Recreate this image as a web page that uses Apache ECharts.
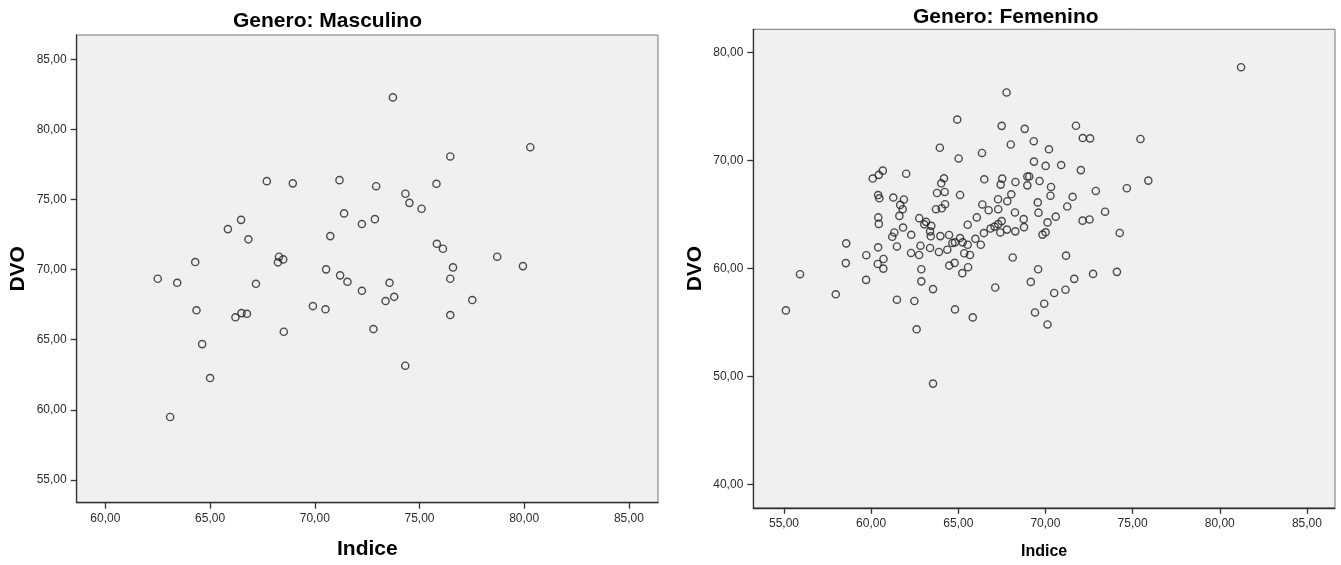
<!DOCTYPE html>
<html>
<head>
<meta charset="utf-8">
<script src="https://cdn.jsdelivr.net/npm/echarts@6/dist/echarts.min.js"></script>
<style>
html,body{margin:0;padding:0;background:#fff;}
#c{width:1341px;height:565px;}
</style>
</head>
<body>
<div id="c"></div>
<script>
// ---- Data: Genero Masculino ----
const maleIndice = [67.71,68.95,71.18,66.48,65.85,66.83,71.40,72.25,70.74,64.29,62.50,63.43,67.19,68.29,68.24,68.49,70.54,71.21,71.56,73.73,80.29,76.47,72.93,75.81,74.33,74.52,75.10,72.87,75.83,76.12,78.71,79.94,76.60,76.47,72.25,73.57,73.38,73.79,77.52,76.47,72.80,74.32,64.35,66.21,66.50,66.76,69.91,70.51,68.52,64.62,65.00,63.09];
const maleDVO = [76.31,76.15,76.38,73.55,72.89,72.16,74.01,73.25,72.39,70.54,69.35,69.06,68.99,70.92,70.52,70.73,70.02,69.59,69.13,82.28,78.73,78.07,75.95,76.12,75.41,74.76,74.34,73.60,71.84,71.49,70.92,70.25,70.16,69.35,68.49,69.06,67.76,68.06,67.83,66.76,65.76,63.15,67.10,66.60,66.90,66.85,67.40,67.17,65.57,64.69,62.27,59.49];

// ---- Data: Genero Femenino ----
const femaleIndice = [67.77,64.94,67.49,68.01,63.94,65.02,66.36,60.67,60.44,60.09,62.01,64.18,64.02,66.49,67.52,67.43,68.28,60.40,60.47,61.27,61.88,61.67,61.81,61.62,63.78,64.22,65.10,64.24,64.05,63.72,66.38,66.74,67.28,67.81,68.04,67.29,68.25,62.76,63.15,63.05,63.45,60.41,60.44,61.83,65.54,66.06,66.85,67.08,67.29,67.49,67.79,68.81,69.33,70.20,71.75,72.14,72.56,75.45,69.34,70.01,70.90,72.03,68.96,69.07,68.96,69.66,70.32,70.29,69.56,71.56,72.89,74.67,75.90,71.25,69.60,68.75,70.59,70.12,72.13,72.53,73.42,68.77,61.33,61.21,62.30,63.38,63.42,63.97,64.47,65.10,64.66,64.81,65.25,65.54,65.98,66.29,66.47,67.41,68.27,58.57,58.55,59.72,60.40,61.48,60.71,60.38,60.70,59.71,57.97,62.83,62.29,62.75,63.38,63.89,64.37,65.34,65.67,64.79,64.48,65.56,65.23,62.88,62.88,63.55,61.48,62.48,62.61,64.81,65.83,67.12,68.12,69.83,70.01,74.26,71.18,69.58,69.16,71.65,72.73,74.10,71.15,70.50,69.93,69.40,70.12,55.92,55.11,63.55,81.22];
const femaleDVO = [76.31,73.80,73.22,71.49,71.19,70.20,70.71,69.07,68.68,68.34,68.79,68.36,67.90,68.27,68.33,67.78,68.02,66.81,66.51,66.58,66.40,65.90,65.50,64.88,67.00,67.10,66.82,65.96,65.59,65.50,65.94,65.41,66.42,66.24,66.88,65.50,65.20,64.67,64.33,64.10,63.96,64.74,64.14,63.80,64.06,64.74,63.71,63.89,64.12,64.40,63.61,72.94,71.80,71.05,73.23,72.09,72.06,72.00,69.91,69.51,69.59,69.12,68.53,68.53,67.71,68.11,67.56,66.75,66.13,66.65,67.19,67.44,68.15,65.75,65.18,64.58,64.81,64.28,64.44,64.55,65.27,63.84,63.35,62.95,63.13,63.45,62.99,63.01,63.11,62.83,62.37,62.43,62.43,62.21,62.76,62.21,63.29,63.35,63.45,62.34,60.51,61.24,61.97,62.05,60.89,60.43,60.00,58.96,57.62,62.12,61.45,61.26,61.91,61.54,61.75,61.42,61.26,60.53,60.28,60.13,59.58,59.94,58.82,58.10,57.12,57.00,54.38,56.22,55.48,58.25,61.03,63.15,63.36,63.30,61.20,59.94,58.77,59.05,59.51,59.70,58.04,57.74,56.75,55.94,54.83,59.48,56.13,49.35,78.65];

// ---- Tick labels ----
const maleIndiceTicks = [60,65,70,75,80,85];
const maleDVOTicks = [55,60,65,70,75,80,85];
const femaleIndiceTicks = [55,60,65,70,75,80,85];
const femaleDVOTicks = [40,50,60,70,80];

const titles = ['Genero: Masculino', 'Genero: Femenino'];
const xName = 'Indice';
const yName = 'DVO';

const FONT = '"Liberation Sans", Arial, sans-serif';
const fmt = v => v.toFixed(2).replace('.', ',');

function xAxis(gi, min, max, ticks, gap, size) {
  return {
    type: 'value', gridIndex: gi, min: min, max: max, position: 'bottom',
    name: xName, nameLocation: 'middle', nameGap: gap,
    nameTextStyle: {fontFamily: FONT, fontSize: size, fontWeight: 'bold', color: '#000', align: 'center', verticalAlign: 'middle'},
    axisLine: {show: true, onZero: false, lineStyle: {color: '#333', width: 1.3}},
    axisTick: {show: true, length: 6, customValues: ticks, lineStyle: {color: '#333', width: 1.3}},
    axisLabel: {customValues: ticks, formatter: fmt, margin: 10, fontFamily: FONT, fontSize: 12, color: '#2a2a2a'},
    splitLine: {show: false}
  };
}
function yAxis(gi, min, max, ticks) {
  return {
    type: 'value', gridIndex: gi, min: min, max: max, position: 'left',
    name: yName, nameLocation: 'middle', nameGap: 58.4, nameRotate: 90,
    nameTextStyle: {fontFamily: FONT, fontSize: 21, fontWeight: 'bold', color: '#000', align: 'center', verticalAlign: 'middle'},
    axisLine: {show: true, onZero: false, lineStyle: {color: '#333', width: 1.3}},
    axisTick: {show: true, length: 6, customValues: ticks, lineStyle: {color: '#333', width: 1.3}},
    axisLabel: {customValues: ticks, formatter: fmt, margin: 10, fontFamily: FONT, fontSize: 12, color: '#2a2a2a'},
    splitLine: {show: false}
  };
}
const markStyle = {color: 'rgba(0,0,0,0)', borderColor: '#222', borderWidth: 1.4};

const chart = echarts.init(document.getElementById('c'), null, {renderer: 'canvas'});
chart.setOption({
  animation: false,
  backgroundColor: '#fff',
  grid: [
    {left: 76.7, top: 35, width: 581.3, height: 467.7, show: true, backgroundColor: '#f0f0f0', borderColor: '#777', borderWidth: 1, containLabel: false},
    {left: 753.3, top: 29.3, width: 581.7, height: 480.7, show: true, backgroundColor: '#f0f0f0', borderColor: '#777', borderWidth: 1, containLabel: false}
  ],
  xAxis: [
    xAxis(0, 58.63, 86.39, maleIndiceTicks, 46.5, 21),
    xAxis(1, 53.24, 86.61, femaleIndiceTicks, 44.2, 16)
  ],
  yAxis: [
    yAxis(0, 53.38, 86.73, maleDVOTicks),
    yAxis(1, 37.85, 82.16, femaleDVOTicks)
  ],
  graphic: [
    {type: 'text', x: 327.5, y: 20.8, silent: true, style: {text: titles[0], font: 'bold 21px ' + FONT, fill: '#000', align: 'center', verticalAlign: 'middle'}},
    {type: 'text', x: 1005.8, y: 17.5, silent: true, style: {text: titles[1], font: 'bold 21px ' + FONT, fill: '#000', align: 'center', verticalAlign: 'middle'}}
  ],
  series: [
    {type: 'scatter', xAxisIndex: 0, yAxisIndex: 0, symbol: 'circle', symbolSize: 7.2, silent: true,
     itemStyle: markStyle, data: maleIndice.map((x, i) => [x, maleDVO[i]])},
    {type: 'scatter', xAxisIndex: 1, yAxisIndex: 1, symbol: 'circle', symbolSize: 7.2, silent: true,
     itemStyle: markStyle, data: femaleIndice.map((x, i) => [x, femaleDVO[i]])}
  ]
});
</script>
</body>
</html>
